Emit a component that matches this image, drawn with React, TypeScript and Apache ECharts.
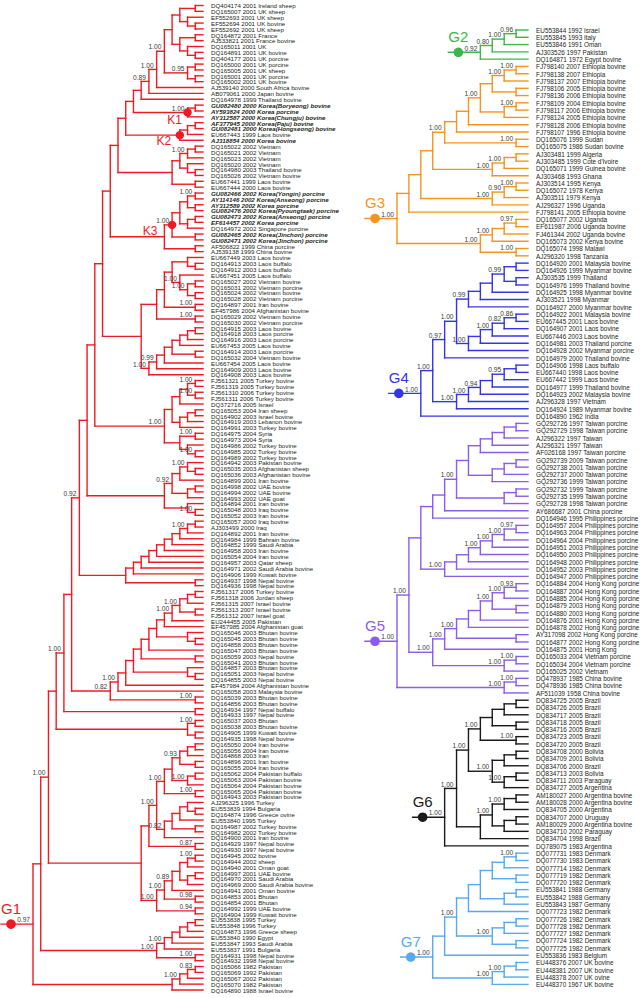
import React, { useEffect, useRef } from "react";
import * as echarts from "echarts";

// ---------- leaf labels ----------
const leftLeaves: string[] = [
  "DQ404174 2001 Ireland sheep", "DQ165007 2001 UK sheep", "EF552693 2001 UK sheep", "EF552694 2001 UK bovine",
  "EF552692 2001 UK sheep", "DQ164872 2001 France", "AJ533821 2001 France bovine", "DQ165011 2001 UK",
  "DQ164891 2001 UK bovine", "DQ404177 2001 UK porcine", "DQ165000 2001 UK porcine", "DQ165005 2001 UK sheep",
  "DQ165001 2001 UK porcine", "DQ165002 2001 UK bovine", "AJ539140 2000 South Africa bovine", "AB079061 2000 Japan bovine",
  "DQ164978 1999 Thailand bovine", "GU082480 2000 Korea(Boryeong) bovine", "AY593824 2000 Korea porcine",
  "AY312587 2000 Korea(Chungju) bovine", "AF377945 2000 Korea(Paju) bovine", "GU082481 2000 Korea(Hongseong) bovine",
  "EU667443 1999 Laos bovine", "AJ318854 2000 Korea bovine", "DQ165022 2002 Vietnam", "DQ165021 2002 Vietnam",
  "DQ165023 2002 Vietnam", "DQ165020 2002 Vietnam", "DQ164980 2003 Thailand bovine", "DQ165026 2002 Vietnam bovine",
  "EU667441 1999 Laos bovine", "EU667444 2000 Laos bovine", "GU082466 2002 Korea(Yongin) porcine",
  "AY114146 2002 Korea(Anseong) porcine", "AY312589 2002 Korea porcine", "GU082476 2002 Korea(Pyoungtaek) porcine",
  "GU082473 2002 Korea(Anseong) porcine", "EF614457 2002 Korea porcine", "DQ164972 2002 Singapore porcine",
  "GU082465 2002 Korea(Jinchon) porcine", "GU082471 2002 Korea(Jinchon) porcine", "AF506822 1999 China porcine",
  "AJ539138 1999 China bovine", "EU667449 2003 Laos bovine", "DQ164913 2003 Laos buffalo", "DQ164912 2003 Laos buffalo",
  "EU667451 2005 Laos buffalo", "DQ165027 2002 Vietnam bovine", "DQ165031 2002 Vietnam porcine",
  "DQ165024 2002 Vietnam bovine", "DQ165028 2002 Vietnam porcine", "DQ164897 2001 Iran bovine",
  "EF457986 2004 Afghanistan bovine", "DQ165029 2002 Vietnam bovine", "DQ165030 2002 Vietnam porcine",
  "DQ164915 2003 Laos bovine", "DQ164918 2003 Laos porcine", "DQ164916 2003 Laos porcine", "EU667453 2005 Laos bovine",
  "DQ164914 2003 Laos porcine", "DQ165032 2004 Vietnam bovine", "EU667454 2005 Laos bovine", "DQ164909 2003 Laos bovine",
  "DQ164908 2003 Laos bovine", "FJ561321 2005 Turkey bovine", "FJ561319 2005 Turkey bovine", "FJ561310 2006 Turkey bovine",
  "FJ561311 2006 Turkey bovine", "DQ372716 2005 Israel", "DQ165053 2004 Iran sheep", "DQ164902 2003 Israel bovine",
  "DQ164919 2003 Lebanon bovine", "DQ164991 2003 Turkey bovine", "DQ164975 2004 Syria", "DQ164973 2004 Syria",
  "DQ164986 2002 Turkey bovine", "DQ164985 2002 Turkey bovine", "DQ164989 2002 Turkey bovine",
  "DQ164942 2003 Pakistan bovine", "DQ165035 2003 Afghanistan sheep", "DQ165036 2003 Afghanistan bovine",
  "DQ164899 2001 Iran bovine", "DQ164998 2002 UAE bovine", "DQ164994 2002 UAE bovine", "DQ164993 2002 UAE goat",
  "DQ164894 2001 Iran bovine", "DQ165048 2003 Iraq bovine", "DQ165052 2003 Iran bovine", "DQ165057 2000 Iraq bovine",
  "AJ303499 2000 Iraq", "DQ164892 2001 Iran bovine", "DQ164984 1999 Bahrain bovine", "DQ164852 1999 Saudi Arabia",
  "DQ164958 2003 Iran bovine", "DQ165054 2004 Iran bovine", "DQ164957 2003 Qatar sheep",
  "DQ164971 2002 Saudi Arabia bovine", "DQ164906 1999 Kuwait bovine", "DQ164937 1998 Nepal bovine",
  "DQ164936 1998 Nepal bovine", "FJ561317 2006 Turkey bovine", "FJ561318 2006 Jordan sheep", "FJ561315 2007 Israel bovine",
  "FJ561313 2007 Israel bovine", "FJ561312 2007 Israel goat", "EU244455 2005 Pakistan", "EF457985 2004 Afghanistan goat",
  "DQ165046 2003 Bhutan bovine", "DQ165045 2003 Bhutan bovine", "DQ164858 2003 Bhutan bovine",
  "DQ165047 2003 Bhutan bovine", "DQ165059 2003 Nepal bovine", "DQ165041 2003 Bhutan bovine",
  "DQ164857 2003 Bhutan bovine", "DQ165051 2003 Nepal bovine", "DQ164855 2003 Nepal bovine",
  "EF457984 2004 Afghanistan bovine", "DQ165058 2003 Malaysia bovine", "DQ165039 2003 Bhutan bovine",
  "DQ164856 2003 Bhutan bovine", "DQ164934 1997 Nepal buffalo", "DQ164933 1997 Nepal bovine", "DQ165037 2003 Bhutan",
  "DQ165038 2003 Bhutan bovine", "DQ164905 1999 Kuwait bovine", "DQ164935 1998 Nepal bovine", "DQ165050 2004 Iran bovine",
  "DQ165056 2004 Iran bovine", "DQ164868 2003 Iran", "DQ164896 2001 Iran bovine", "DQ165055 2004 Iran bovine",
  "DQ165062 2004 Pakistan buffalo", "DQ165063 2004 Pakistan bovine", "DQ165064 2004 Pakistan bovine",
  "DQ165065 2004 Pakistan bovine", "DQ164943 2003 Pakistan bovine", "AJ296325 1996 Turkey", "EU553839 1994 Bulgaria",
  "DQ164874 1996 Greece ovine", "EU553840 1995 Turkey", "DQ164987 2002 Turkey bovine", "DQ164982 2002 Turkey bovine",
  "DQ164900 2001 Iran bovine", "DQ164929 1997 Nepal bovine", "DQ164930 1997 Nepal bovine", "DQ164945 2002 bovine",
  "DQ164944 2002 sheep", "DQ164940 2001 Oman goat", "DQ164997 2001 UAE bovine", "DQ164970 2001 Saudi Arabia",
  "DQ164969 2000 Saudi Arabia bovine", "DQ164941 2001 Oman bovine", "DQ164853 2001 Bhutan", "DQ164854 2001 Bhutan",
  "DQ164992 1999 UAE bovine", "DQ164904 1999 Kuwait bovine", "EU553838 1995 Turkey", "EU553848 1996 Turkey",
  "DQ164873 1996 Greece sheep", "EU553840 1990 Egypt", "EU553847 1993 Saudi Arabia", "EU553837 1991 Bulgaria",
  "DQ164931 1998 Nepal bovine", "DQ164932 1998 Nepal bovine", "DQ165066 1982 Pakistan", "DQ165069 1992 Pakistan",
  "DQ165067 2002 Pakistan", "DQ165070 1982 Pakistan", "DQ164890 1988 Israel bovine",
];

const leftBold: string[] = [
  "GU082480", "AY593824", "AY312587", "AF377945", "GU082481", "AJ318854", "GU082466",
  "AY114146", "AY312589", "GU082476", "GU082473", "EF614457", "GU082465", "GU082471",
];

const rightLeaves: string[] = [
  "EU553844 1992 Israel", "EU553845 1993 Italy", "EU553846 1991 Oman", "AJ303526 1997 Pakistan", "DQ164871 1972 Egypt bovine",
  "FJ798140 2007 Ethiopia bovine", "FJ798138 2007 Ethiopia", "FJ798137 2007 Ethiopia bovine", "FJ798106 2005 Ethiopia bovine",
  "FJ798136 2006 Ethiopia bovine", "FJ798109 2004 Ethiopia bovine", "FJ798117 2006 Ethiopia bovine",
  "FJ798124 2005 Ethiopia bovine", "FJ798128 2006 Ethiopia bovine", "FJ798107 1996 Ethiopia bovine", "DQ165076 1999 Sudan",
  "DQ165075 1986 Sudan bovine", "AJ303481 1999 Algeria", "AJ303485 1999 Cote d'Ivoire", "DQ165071 1999 Guinea bovine",
  "AJ303468 1993 Ghana", "AJ303514 1995 Kenya", "DQ165072 1978 Kenya", "AJ303511 1979 Kenya", "AJ296327 1996 Uganda",
  "FJ798141 2005 Ethiopia bovine", "DQ165077 2002 Uganda", "EF611987 2006 Uganda bovine", "FJ461344 2002 Uganda bovine",
  "DQ165073 2002 Kenya bovine", "DQ165074 1998 Malawi", "AJ296320 1998 Tanzania",
  "DQ164920 2001 Malaysia bovine", "DQ164926 1999 Myanmar bovine", "AJ303535 1999 Thailand", "DQ164976 1999 Thailand bovine",
  "DQ164925 1998 Myanmar bovine", "AJ303521 1998 Myanmar", "DQ164927 2000 Myanmar bovine", "DQ164922 2001 Malaysia bovine",
  "EU667445 2001 Laos bovine", "DQ164907 2001 Laos bovine", "EU667446 2003 Laos bovine", "DQ164981 2003 Thailand porcine",
  "DQ164928 2002 Myanmar porcine", "DQ164979 2000 Thailand bovine", "DQ164906 1998 Laos buffalo", "EU667440 1998 Laos bovine",
  "EU667442 1999 Laos bovine", "DQ164977 1999 Thailand bovine", "DQ164923 2002 Malaysia bovine", "AJ296328 1997 Vietnam",
  "DQ164924 1989 Myanmar bovine", "DQ164890 1962 India",
  "GQ292726 1997 Taiwan porcine", "GQ292729 1998 Taiwan porcine", "AJ296322 1997 Taiwan", "AJ296321 1997 Taiwan",
  "AF026168 1997 Taiwan porcine", "GQ292739 2009 Taiwan porcine", "GQ292738 2001 Taiwan porcine",
  "GQ292737 2000 Taiwan porcine", "GQ292736 1999 Taiwan porcine", "GQ292732 1999 Taiwan porcine",
  "GQ292735 1999 Taiwan porcine", "GQ292728 1998 Taiwan porcine", "AY686687 2001 China porcine",
  "DQ164946 1995 Philippines porcine", "DQ164957 2004 Philippines porcine", "DQ164963 2004 Philippines porcine",
  "DQ164964 2004 Philippines porcine", "DQ164951 2003 Philippines porcine", "DQ164950 2003 Philippines porcine",
  "DQ164948 2000 Philippines porcine", "DQ164952 2003 Philippines porcine", "DQ164947 2000 Philippines porcine",
  "DQ164884 2004 Hong Kong porcine", "DQ164887 2004 Hong Kong porcine", "DQ164885 2004 Hong Kong porcine",
  "DQ164879 2003 Hong Kong porcine", "DQ164880 2003 Hong Kong porcine", "DQ164876 2001 Hong Kong porcine",
  "DQ164878 2002 Hong Kong porcine", "AY317098 2002 Hong Kong porcine", "DQ164877 2002 Hong Kong porcine",
  "DQ164875 2001 Hong Kong", "DQ165033 2004 Vietnam porcine", "DQ165034 2004 Vietnam porcine", "DQ165025 2002 Vietnam",
  "DQ478937 1985 China bovine", "DQ478936 1985 China bovine", "AF511039 1958 China bovine",
  "DQ834725 2005 Brazil", "DQ834726 2005 Brazil", "DQ834717 2005 Brazil", "DQ834718 2005 Brazil", "DQ834716 2005 Brazil",
  "DQ834723 2005 Brazil", "DQ834720 2005 Brazil", "DQ834708 2000 Bolivia", "DQ834709 2001 Bolivia", "DQ834706 2000 Brazil",
  "DQ834713 2003 Bolivia", "DQ834711 2003 Paraguay", "DQ834727 2005 Argentina", "AM180027 2000 Argentina bovine",
  "AM180028 2000 Argentina bovine", "DQ834705 2000 Argentina", "DQ834707 2000 Uruguay", "AM180029 2000 Argentina bovine",
  "DQ834710 2002 Paraguay", "DQ834704 1998 Brazil", "DQ789075 1983 Argentina",
  "DQ077731 1983 Denmark", "DQ077730 1983 Denmark", "DQ077714 1982 Denmark", "DQ077719 1982 Denmark",
  "DQ077720 1982 Denmark", "EU553841 1988 Germany", "EU553842 1988 Germany", "EU553843 1987 Germany",
  "DQ077723 1982 Denmark", "DQ077726 1982 Denmark", "DQ077728 1982 Denmark", "DQ077727 1982 Denmark",
  "DQ077724 1982 Denmark", "DQ077725 1982 Denmark", "EU553836 1983 Belgium", "EU448376 2007 UK bovine",
  "EU448381 2007 UK bovine", "EU448378 2007 UK ovine", "EU448370 1967 UK bovine",
];

// ---------- topology (Newick with leaf indices, support values, #markers) ----------
const lTop = "(((((((0,1),(2,(3,4))),((5,6),(7,(8,9)))),((10,11),(12,13))0.95)1.00,14)1.00,15)0.89,16)";
const lK1 = "((17,18),19)1.00#K1";
const lK2 = "(((20,21),22),23)#K2";
const lV = "((((24,25),26)1.00,(27,(28,29))),(30,31))";
const lK3 = "(((((32,33)1.00,(34,35)),((36,37),38)),(39,40))1.00#K3,(41,42))";
const lLVb = "((((43,(44,45)),(46,((47,48),(49,50))1.00)1.00),(51,52)1.00),(53,54)1.00)";
const lLVlow = "(((((((55,56),57),58),(59,60)),61),62)0.99,63)1.00";
const lTurkey = "(((((64,65)1.00,(66,67)1.00),68),(((69,70),71),72)),((73,74)1.00,(75,(76,77)1.00)))1.00";
const lAfghan = "((((78,(79,80))1.00,81),((82,83),84))0.92,(85,(86,87)1.00))";
const lGulf = "((((((((((88,89),90)1.00,91),92),93),94),95),96),97),(98,99))";
const lA6 = "((((((100,101),102),(103,104))1.00,105)1.00,106),(107,(108,109)))";
const lA12 = "((((((" + lA6 + ",110),(111,112)),(113,(114,115))),116),117)1.00,(118,119)1.00)0.82";
const lNepal = "((122,123)1.00,(124,125))";
const lIrPak2 = "(((((126,127),128),(129,130))0.93,((131,132),133)1.00),(134,135)1.00)1.00";
const lT = "((((136,(137,138)),139),(140,141)),142)0.82";
const lX1 = "(((145,146)1.00,147),((148,149),150))";
const lBig = "(((" + lIrPak2 + "," + lT + ")1.00,(143,144)0.87),(((" + lX1 + ",151)0.89,(152,153)0.98)1.00,(154,155)0.94)1.00)";
const lEU = "((((((156,157),158),159),160),161)1.00,(162,163)1.00)1.00";
const lPak = "((((164,165)0.83,166),167)1.00,168)";
const leftTree =
  "((((((((((((((" + lTop + "," + lK1 + ")," + lK2 + ")," + lV + ")," + lK3 + "),(" + lLVb + "," + lLVlow + "))," +
  lTurkey + ")," + lAfghan + ")," + lGulf + ")0.92," + lA12 + "),(120,121))1.00," + lNepal + ")," + lBig + ")1.00," +
  lEU + ")," + lPak + ")0.97#G1";

const g2Tree = "((((0,1)0.96,2)1.00,3)0.80,4)0.92#G2";
const g3Eth = "((((((5,6)1.00,7)1.00,(8,9)),((10,11)1.00,12))1.00,13),14)";
const g3Tree =
  "(((((" + g3Eth + ",(15,16)1.00)1.00,(((17,18),19)1.00,20)1.00),(((21,22)1.00,23)0.90,24)1.00),25)," +
  "((((26,27)0.97,28),29)1.00,(30,31)1.00)1.00)1.00#G3";
const g4Mya = "(((((32,33),(34,35))0.99,36),37),38)0.99";
const g4Lao = "(((((39,40)0.86,41)0.82,42)1.00,43),44)1.00";
const g4Low = "((((((46,47),48)0.95,49),50)0.94,51)1.00,52)1.00";
const g4Tree = "((((" + g4Mya + "," + g4Lao + ")1.00,45)0.97," + g4Low + ")1.00,53)1.00#G4";
const g5Taiwan = "((((((((54,55),56),57),58),(((59,60),61),62)),((63,64),65))1.00,66),67)";
const g5Phil = "(((((((68,69)0.97,70)1.00,71)1.00,72)1.00,73),74),75)1.00";
const g5HK = "((((((76,77)0.93,78)1.00,(79,80))1.00,81),82),(83,84))1.00";
const g5Tree =
  "(((" + g5Taiwan + "," + g5Phil + "),((" + g5HK + ",85)1.00,((86,87)1.00,88)1.00)1.00)1.00," +
  "((89,90)1.00,91)1.00)1.00#G5";
const g6Tree =
  "(((((((92,93),94),(95,96)),(97,98)1.00)1.00,(((99,100),101),((102,103),104)1.00)1.00)1.00," +
  "((((105,106),107)1.00,((108,109),110))1.00,111))1.00,112)1.00#G6";
const g7Tree =
  "((((((((113,114)1.00,115),(116,117)),((118,119),120)),121),(((122,123),124),(125,126))1.00)1.00,127)," +
  "(((128,129),130)1.00,131)1.00)1.00#G7";

const rightGroups = [
  { tree: g2Tree, color: "#3cb54a" },
  { tree: g3Tree, color: "#f7941d" },
  { tree: g4Tree, color: "#3434ee" },
  { tree: g5Tree, color: "#8b5cf0" },
  { tree: g6Tree, color: "#1a1a1a" },
  { tree: g7Tree, color: "#56a9f2" },
];
const LEFT_COLOR = "#ed1c24";

// ---------- parsing & layout ----------
type TNode = { children: TNode[]; leaf: number | null; support?: string; mark?: string; h: number; y: number };
type Flat = {
  h: number; y: number; ph: number | null; y0: number; y1: number; leaf: number | null;
  support?: string; mark?: string; color: string;
};

function parseNewick(src: string): TNode {
  const s = src.replace(/\s+/g, "");
  let i = 0;
  const tok = () => {
    let j = i;
    while (j < s.length && "(),".indexOf(s[j]) < 0) j++;
    const t = s.slice(i, j);
    i = j;
    return t;
  };
  const node = (): TNode => {
    if (s[i] === "(") {
      i++;
      const children: TNode[] = [node()];
      while (s[i] === ",") { i++; children.push(node()); }
      i++;
      const t = tok();
      const parts = t.split("#");
      return { children, leaf: null, support: parts[0] || undefined, mark: parts[1], h: 0, y: 0 };
    }
    return { children: [], leaf: parseInt(tok(), 10), h: 0, y: 0 };
  };
  return node();
}

function layout(n: TNode) {
  if (!n.children.length) { n.h = 0; n.y = n.leaf as number; return; }
  n.children.forEach(layout);
  n.h = 1 + Math.max(...n.children.map((c) => c.h));
  n.y = (n.children[0].y + n.children[n.children.length - 1].y) / 2;
}

function flatten(root: TNode, color: string): Flat[] {
  const out: Flat[] = [];
  const walk = (n: TNode, ph: number | null) => {
    const k = n.children.length;
    out.push({
      h: n.h, y: n.y, ph, leaf: n.leaf, support: n.support, mark: n.mark, color,
      y0: k ? n.children[0].y : n.y, y1: k ? n.children[k - 1].y : n.y,
    });
    n.children.forEach((c) => walk(c, n.h));
  };
  walk(root, null);
  return out;
}

const FONT = "'Liberation Sans', Arial, Helvetica, sans-serif";
const markOffset: Record<string, [number, number]> = { K1: [-13, 8], K2: [-16, 6], K3: [-22, 6] };

function makeTreeRender(flat: Flat[], leaves: string[], fontSize: number, bold: string[]) {
  return (params: any, api: any) => {
    const n = flat[params.dataIndex];
    const p = api.coord([-n.h, n.y]);
    const st = { stroke: n.color, lineWidth: 1.4, lineCap: "square" };
    const els: any[] = [];
    const x0 = n.ph === null ? p[0] - 32 : api.coord([-n.ph, n.y])[0];
    els.push({ type: "line", shape: { x1: x0, y1: p[1], x2: p[0], y2: p[1] }, style: st });
    if (n.leaf === null) {
      const a = api.coord([-n.h, n.y0]);
      const b = api.coord([-n.h, n.y1]);
      els.push({ type: "line", shape: { x1: p[0], y1: a[1], x2: p[0], y2: b[1] }, style: st });
      if (n.support) {
        els.push({
          type: "text", z2: 5,
          style: {
            text: n.support, x: p[0] - 3, y: p[1] - 0.8, fill: "#3a3a3a", fontSize: 6.6, fontFamily: FONT,
            textAlign: "right", textVerticalAlign: "bottom", align: "right", verticalAlign: "bottom",
          },
        });
      }
    } else {
      const name = leaves[n.leaf];
      const isBold = bold.indexOf(name.split(" ")[0]) >= 0;
      els.push({
        type: "text",
        style: {
          text: name, x: p[0] + 8, y: p[1] + 0.3, fill: "#231f20", fontSize, fontFamily: FONT,
          fontWeight: isBold ? "bold" : "normal", fontStyle: isBold ? "italic" : "normal",
          textAlign: "left", textVerticalAlign: "middle", align: "left", verticalAlign: "middle",
        },
      });
    }
    return { type: "group", children: els };
  };
}

function makeMarkRender(marks: Flat[]) {
  return (params: any, api: any) => {
    const n = marks[params.dataIndex];
    const p = api.coord([-n.h, n.y]);
    const name = n.mark as string;
    const els: any[] = [];
    if (name[0] === "G") {
      const cx = p[0] - 22;
      els.push({ type: "circle", shape: { cx, cy: p[1], r: 4.8 }, style: { fill: n.color } });
      els.push({
        type: "text",
        style: {
          text: name, x: cx, y: p[1] - 16, fill: n.color, fontSize: 15, fontFamily: FONT,
          textAlign: "center", textVerticalAlign: "middle", align: "center", verticalAlign: "middle",
        },
      });
    } else {
      const off = markOffset[name] || [-13, 8];
      els.push({ type: "circle", shape: { cx: p[0], cy: p[1], r: 4.2 }, style: { fill: n.color } });
      els.push({
        type: "text",
        style: {
          text: name, x: p[0] + off[0], y: p[1] + off[1], fill: n.color, fontSize: 12, fontFamily: FONT,
          textAlign: "center", textVerticalAlign: "middle", align: "center", verticalAlign: "middle",
        },
      });
    }
    return { type: "group", children: els };
  };
}

function buildOption() {
  const lRoot = parseNewick(leftTree);
  layout(lRoot);
  const leftFlat = flatten(lRoot, LEFT_COLOR);
  const rightFlat: Flat[] = [];
  rightGroups.forEach((g) => {
    const r = parseNewick(g.tree);
    layout(r);
    rightFlat.push(...flatten(r, g.color));
  });
  const leftMarks = leftFlat.filter((n) => n.mark);
  const rightMarks = rightFlat.filter((n) => n.mark);

  const LSTEP = 5.86;
  const RSTEP = 7.285;
  const hide = { show: false };
  return {
    animation: false,
    backgroundColor: "#ffffff",
    grid: [
      { left: 33, width: 170, top: 5.5 - LSTEP / 2, height: leftLeaves.length * LSTEP },
      { left: 397, width: 131, top: 30 - RSTEP / 2, height: rightLeaves.length * RSTEP },
    ],
    xAxis: [
      { type: "value", gridIndex: 0, min: -22, max: 0, ...hide },
      { type: "value", gridIndex: 1, min: -11, max: 0, ...hide },
    ],
    yAxis: [
      { type: "value", gridIndex: 0, inverse: true, min: -0.5, max: leftLeaves.length - 0.5, ...hide },
      { type: "value", gridIndex: 1, inverse: true, min: -0.5, max: rightLeaves.length - 0.5, ...hide },
    ],
    series: [
      {
        type: "custom", coordinateSystem: "cartesian2d", xAxisIndex: 0, yAxisIndex: 0, silent: true, z: 2,
        data: leftFlat.map((n) => [-n.h, n.y]),
        renderItem: makeTreeRender(leftFlat, leftLeaves, 6.2, leftBold),
      },
      {
        type: "custom", coordinateSystem: "cartesian2d", xAxisIndex: 1, yAxisIndex: 1, silent: true, z: 2,
        data: rightFlat.map((n) => [-n.h, n.y]),
        renderItem: makeTreeRender(rightFlat, rightLeaves, 6.4, []),
      },
      {
        type: "custom", coordinateSystem: "cartesian2d", xAxisIndex: 0, yAxisIndex: 0, silent: true, z: 5,
        data: leftMarks.map((n) => [-n.h, n.y]),
        renderItem: makeMarkRender(leftMarks),
      },
      {
        type: "custom", coordinateSystem: "cartesian2d", xAxisIndex: 1, yAxisIndex: 1, silent: true, z: 5,
        data: rightMarks.map((n) => [-n.h, n.y]),
        renderItem: makeMarkRender(rightMarks),
      },
    ],
  };
}

export default function App() {
  const ref = useRef<HTMLDivElement>(null);
  useEffect(() => {
    const chart = echarts.init(ref.current as HTMLDivElement, null, { renderer: "svg" });
    chart.setOption(buildOption() as any);
    return () => chart.dispose();
  }, []);
  return (
    <div
      ref={ref}
      style={{ position: "fixed", left: 0, top: 0, width: 640, height: 998, background: "#ffffff" }}
    />
  );
}
